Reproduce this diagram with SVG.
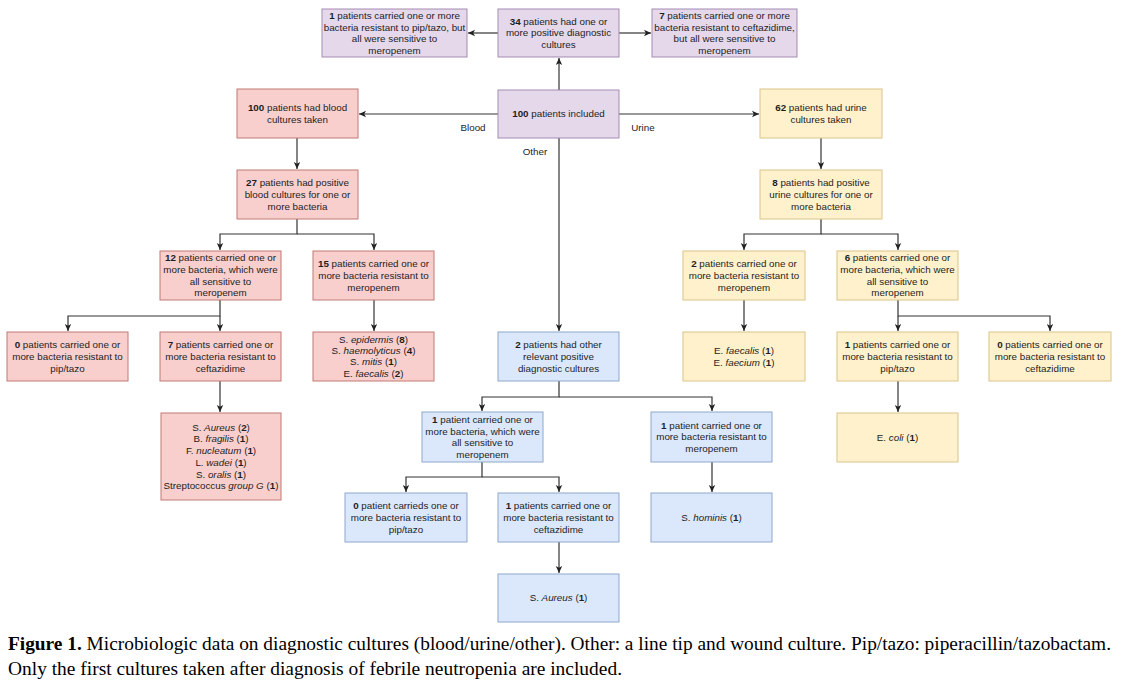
<svg xmlns="http://www.w3.org/2000/svg" width="1121" height="692" viewBox="0 0 1121 692">
<style>
.t{font-family:"Liberation Sans",Arial,sans-serif;font-size:9.8px;fill:#1e1e1e;text-anchor:middle}
.b{font-weight:bold}
.i{font-style:italic}
.pu{fill:#e4d8ea;stroke:#a58bb3;stroke-width:1}
.rd{fill:#f8cfcd;stroke:#c07b77;stroke-width:1}
.ye{fill:#fff1cc;stroke:#dcc48a;stroke-width:1}
.bl{fill:#dbe8fb;stroke:#8ea8cc;stroke-width:1}
.c{fill:none;stroke:#333;stroke-width:1.2}
.cap{font-family:"Liberation Serif","Times New Roman",serif;font-size:19px;fill:#000}
</style>
<defs>
<marker id="a" markerWidth="8" markerHeight="8" refX="7" refY="4" orient="auto" markerUnits="userSpaceOnUse">
<path d="M0,0.8 L7,4 L0,7.2 L1.8,4 z" fill="#222"/>
</marker>
</defs>
<rect width="1121" height="692" fill="#fff"/>

<g id="connectors">
<path class="c" d="M559,90 V58" marker-end="url(#a)"/>
<path class="c" d="M498,33 H468" marker-end="url(#a)"/>
<path class="c" d="M619,33 H651" marker-end="url(#a)"/>
<path class="c" d="M498,114 H359" marker-end="url(#a)"/>
<path class="c" d="M619,114 H759" marker-end="url(#a)"/>
<path class="c" d="M559,138 V331" marker-end="url(#a)"/>
<path class="c" d="M297,138 V169" marker-end="url(#a)"/>
<path class="c" d="M297,219 V234 H220 V250" marker-end="url(#a)"/>
<path class="c" d="M297,234 H374 V250" marker-end="url(#a)"/>
<path class="c" d="M220,300 V316 H68 V331" marker-end="url(#a)"/>
<path class="c" d="M220,316 V331" marker-end="url(#a)"/>
<path class="c" d="M374,300 V331" marker-end="url(#a)"/>
<path class="c" d="M220,381 V412" marker-end="url(#a)"/>
<path class="c" d="M821,138 V169" marker-end="url(#a)"/>
<path class="c" d="M821,219 V234 H744 V250" marker-end="url(#a)"/>
<path class="c" d="M821,234 H898 V250" marker-end="url(#a)"/>
<path class="c" d="M744,300 V331" marker-end="url(#a)"/>
<path class="c" d="M898,300 V316 H1050 V331" marker-end="url(#a)"/>
<path class="c" d="M898,316 V331" marker-end="url(#a)"/>
<path class="c" d="M898,381 V412" marker-end="url(#a)"/>
<path class="c" d="M559,381 V397 H482 V411" marker-end="url(#a)"/>
<path class="c" d="M559,397 H712 V411" marker-end="url(#a)"/>
<path class="c" d="M482,462 V477 H406 V492" marker-end="url(#a)"/>
<path class="c" d="M482,477 H559 V492" marker-end="url(#a)"/>
<path class="c" d="M712,462 V492" marker-end="url(#a)"/>
<path class="c" d="M559,542 V573" marker-end="url(#a)"/>
<text class="t" x="473" y="130.5">Blood</text>
<text class="t" x="643" y="130.5">Urine</text>
<text class="t" x="535" y="154.5">Other</text>
</g>

<g id="p1"><rect class="pu" x="322" y="9" width="145" height="48"/>
<text class="t" x="394.5" y="18.9"><tspan class="b">1</tspan> patients carried one or more</text>
<text class="t" x="394.5" y="30.6">bacteria resistant to pip/tazo, but</text>
<text class="t" x="394.5" y="42.3">all were sensitive to</text>
<text class="t" x="394.5" y="54">meropenem</text></g>

<g id="p2"><rect class="pu" x="498" y="9" width="121" height="48"/>
<text class="t" x="558.5" y="24.7"><tspan class="b">34</tspan> patients had one or</text>
<text class="t" x="558.5" y="36.4">more positive diagnostic</text>
<text class="t" x="558.5" y="48.1">cultures</text></g>

<g id="p3"><rect class="pu" x="652" y="9" width="145" height="48"/>
<text class="t" x="724.5" y="18.9"><tspan class="b">7</tspan> patients carried one or more</text>
<text class="t" x="724.5" y="30.6">bacteria resistant to ceftazidime,</text>
<text class="t" x="724.5" y="42.3">but all were sensitive to</text>
<text class="t" x="724.5" y="54">meropenem</text></g>

<g id="p4"><rect class="pu" x="498" y="90" width="121" height="48"/>
<text class="t" x="558.5" y="117.4"><tspan class="b">100</tspan> patients included</text></g>

<g id="r1"><rect class="rd" x="237" y="89" width="121" height="49"/>
<text class="t" x="297.5" y="111.1"><tspan class="b">100</tspan> patients had blood</text>
<text class="t" x="297.5" y="122.8">cultures taken</text></g>

<g id="r2"><rect class="rd" x="237" y="170" width="121" height="49"/>
<text class="t" x="297.5" y="186.2"><tspan class="b">27</tspan> patients had positive</text>
<text class="t" x="297.5" y="197.9">blood cultures for one or</text>
<text class="t" x="297.5" y="209.6">more bacteria</text></g>

<g id="r3"><rect class="rd" x="160" y="251" width="121" height="49"/>
<text class="t" x="220.5" y="261.4"><tspan class="b">12</tspan> patients carried one or</text>
<text class="t" x="220.5" y="273.1">more bacteria, which were</text>
<text class="t" x="220.5" y="284.7">all sensitive to</text>
<text class="t" x="220.5" y="296.4">meropenem</text></g>

<g id="r4"><rect class="rd" x="313" y="251" width="121" height="49"/>
<text class="t" x="373.5" y="267.2"><tspan class="b">15</tspan> patients carried one or</text>
<text class="t" x="373.5" y="278.9">more bacteria resistant to</text>
<text class="t" x="373.5" y="290.6">meropenem</text></g>

<g id="r5"><rect class="rd" x="7" y="332" width="121" height="49"/>
<text class="t" x="67.5" y="348.2"><tspan class="b">0</tspan> patients carried one or</text>
<text class="t" x="67.5" y="359.9">more bacteria resistant to</text>
<text class="t" x="67.5" y="371.6">pip/tazo</text></g>

<g id="r6"><rect class="rd" x="160" y="332" width="121" height="49"/>
<text class="t" x="220.5" y="348.2"><tspan class="b">7</tspan> patients carried one or</text>
<text class="t" x="220.5" y="359.9">more bacteria resistant to</text>
<text class="t" x="220.5" y="371.6">ceftazidime</text></g>

<g id="r7"><rect class="rd" x="313" y="332" width="121" height="49"/>
<text class="t" x="373.5" y="342.6">S. <tspan class="i">epidermis</tspan> (<tspan class="b">8</tspan>)</text>
<text class="t" x="373.5" y="353.9">S. <tspan class="i">haemolyticus</tspan> (<tspan class="b">4</tspan>)</text>
<text class="t" x="373.5" y="365.2">S. <tspan class="i">mitis</tspan> (<tspan class="b">1</tspan>)</text>
<text class="t" x="373.5" y="376.5">E. <tspan class="i">faecalis</tspan> (<tspan class="b">2</tspan>)</text></g>

<g id="r8"><rect class="rd" x="161" y="413" width="120" height="87"/>
<text class="t" x="221" y="430.7">S. <tspan class="i">Aureus</tspan> (<tspan class="b">2</tspan>)</text>
<text class="t" x="221" y="442.4">B. <tspan class="i">fragilis</tspan> (<tspan class="b">1</tspan>)</text>
<text class="t" x="221" y="454.1">F. <tspan class="i">nucleatum</tspan> (<tspan class="b">1</tspan>)</text>
<text class="t" x="221" y="465.8">L. <tspan class="i">wadei</tspan> (<tspan class="b">1</tspan>)</text>
<text class="t" x="221" y="477.5">S. <tspan class="i">oralis</tspan> (<tspan class="b">1</tspan>)</text>
<text class="t" x="221" y="489.2">Streptococcus <tspan class="i">group G</tspan> (<tspan class="b">1</tspan>)</text></g>

<g id="b1"><rect class="bl" x="498" y="332" width="121" height="49"/>
<text class="t" x="558.5" y="348.2"><tspan class="b">2</tspan> patients had other</text>
<text class="t" x="558.5" y="359.9">relevant positive</text>
<text class="t" x="558.5" y="371.6">diagnostic cultures</text></g>

<g id="b2"><rect class="bl" x="422" y="412" width="121" height="50"/>
<text class="t" x="482.5" y="422.9"><tspan class="b">1</tspan> patient carried one or</text>
<text class="t" x="482.5" y="434.6">more bacteria, which were</text>
<text class="t" x="482.5" y="446.2">all sensitive to</text>
<text class="t" x="482.5" y="457.9">meropenem</text></g>

<g id="b3"><rect class="bl" x="651" y="412" width="121" height="50"/>
<text class="t" x="711.5" y="428.7"><tspan class="b">1</tspan> patient carried one or</text>
<text class="t" x="711.5" y="440.4">more bacteria resistant to</text>
<text class="t" x="711.5" y="452.1">meropenem</text></g>

<g id="b4"><rect class="bl" x="345" y="493" width="122" height="49"/>
<text class="t" x="406" y="509.2"><tspan class="b">0</tspan> patient carrieds one or</text>
<text class="t" x="406" y="520.9">more bacteria resistant to</text>
<text class="t" x="406" y="532.6">pip/tazo</text></g>

<g id="b5"><rect class="bl" x="498" y="493" width="121" height="49"/>
<text class="t" x="558.5" y="509.2"><tspan class="b">1</tspan> patients carried one or</text>
<text class="t" x="558.5" y="520.9">more bacteria resistant to</text>
<text class="t" x="558.5" y="532.6">ceftazidime</text></g>

<g id="b6"><rect class="bl" x="651" y="493" width="121" height="49"/>
<text class="t" x="711.5" y="520.9">S. <tspan class="i">hominis</tspan> (<tspan class="b">1</tspan>)</text></g>

<g id="b7"><rect class="bl" x="498" y="574" width="121" height="48"/>
<text class="t" x="558.5" y="601.4">S. <tspan class="i">Aureus</tspan> (<tspan class="b">1</tspan>)</text></g>

<g id="y1"><rect class="ye" x="760" y="89" width="122" height="49"/>
<text class="t" x="821" y="111.1"><tspan class="b">62</tspan> patients had urine</text>
<text class="t" x="821" y="122.8">cultures taken</text></g>

<g id="y2"><rect class="ye" x="760" y="170" width="122" height="49"/>
<text class="t" x="821" y="186.2"><tspan class="b">8</tspan> patients had positive</text>
<text class="t" x="821" y="197.9">urine cultures for one or</text>
<text class="t" x="821" y="209.6">more bacteria</text></g>

<g id="y3"><rect class="ye" x="683" y="251" width="122" height="49"/>
<text class="t" x="744" y="267.2"><tspan class="b">2</tspan> patients carried one or</text>
<text class="t" x="744" y="278.9">more bacteria resistant to</text>
<text class="t" x="744" y="290.6">meropenem</text></g>

<g id="y4"><rect class="ye" x="837" y="251" width="121" height="49"/>
<text class="t" x="897.5" y="261.4"><tspan class="b">6</tspan> patients carried one or</text>
<text class="t" x="897.5" y="273.1">more bacteria, which were</text>
<text class="t" x="897.5" y="284.7">all sensitive to</text>
<text class="t" x="897.5" y="296.4">meropenem</text></g>

<g id="y5"><rect class="ye" x="683" y="332" width="122" height="49"/>
<text class="t" x="744" y="354.1">E. <tspan class="i">faecalis</tspan> (<tspan class="b">1</tspan>)</text>
<text class="t" x="744" y="365.7">E. <tspan class="i">faecium</tspan> (<tspan class="b">1</tspan>)</text></g>

<g id="y6"><rect class="ye" x="837" y="332" width="121" height="49"/>
<text class="t" x="897.5" y="348.2"><tspan class="b">1</tspan> patients carried one or</text>
<text class="t" x="897.5" y="359.9">more bacteria resistant to</text>
<text class="t" x="897.5" y="371.6">pip/tazo</text></g>

<g id="y7"><rect class="ye" x="989" y="332" width="122" height="49"/>
<text class="t" x="1050" y="348.2"><tspan class="b">0</tspan> patients carried one or</text>
<text class="t" x="1050" y="359.9">more bacteria resistant to</text>
<text class="t" x="1050" y="371.6">ceftazidime</text></g>

<g id="y8"><rect class="ye" x="837" y="413" width="121" height="49"/>
<text class="t" x="897.5" y="440.9">E. <tspan class="i">coli</tspan> (<tspan class="b">1</tspan>)</text></g>

<g id="caption">
<text class="cap" x="8" y="650" textLength="1103" lengthAdjust="spacingAndGlyphs"><tspan font-weight="bold">Figure 1.</tspan> Microbiologic data on diagnostic cultures (blood/urine/other). Other: a line tip and wound culture. Pip/tazo: piperacillin/tazobactam.</text>
<text class="cap" x="8" y="675" textLength="614" lengthAdjust="spacingAndGlyphs">Only the first cultures taken after diagnosis of febrile neutropenia are included.</text>
</g>
</svg>
